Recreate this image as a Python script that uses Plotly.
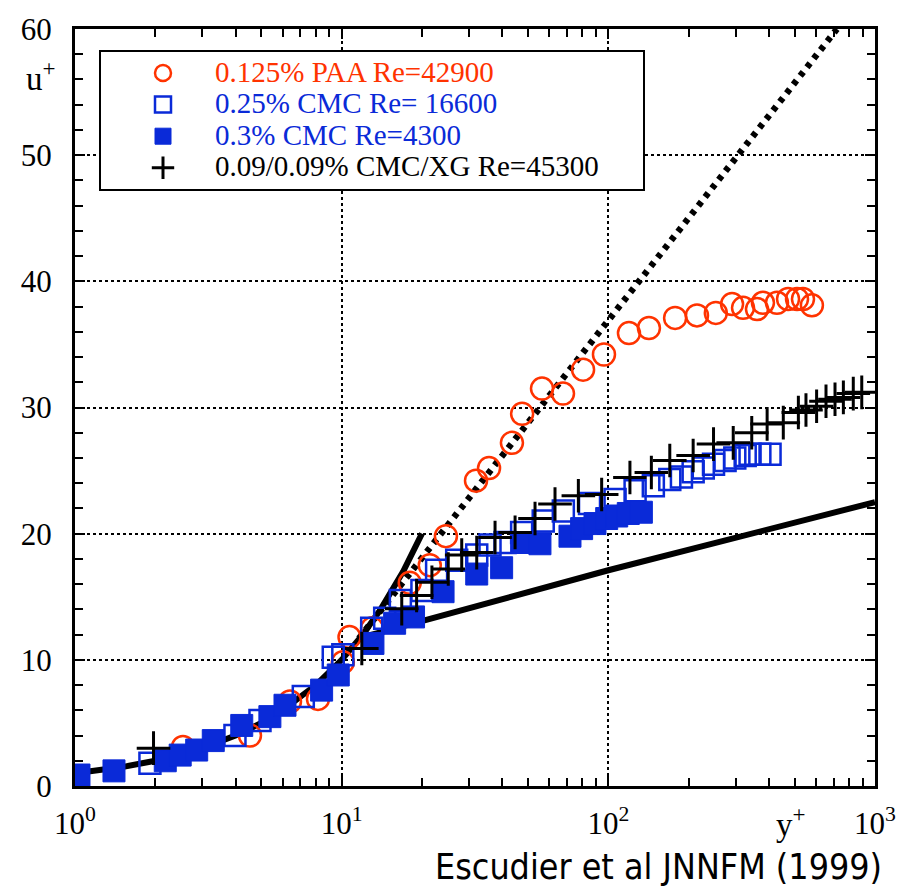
import plotly.graph_objects as go

# ---- data ----
paa_y = [2.54, 4.53, 6.4, 8.15, 10.1, 10.7, 13.0, 18.0, 21.4, 24.6, 31.9, 35.7, 43.5, 47.5,
         56.4, 67.6, 80.4, 96.3, 119.5, 142, 178, 215, 253, 291, 320, 361, 380, 429, 472,
         510, 537, 580]
paa_u = [3.1, 4.0, 6.7, 6.9, 9.8, 11.8, 12.5, 16.1, 17.5, 19.8, 24.2, 25.2, 27.2, 29.5,
         31.5, 31.1, 33.0, 34.2, 35.9, 36.3, 37.1, 37.3, 37.5, 38.2, 37.9, 37.8, 38.3, 38.3,
         38.6, 38.6, 38.6, 38.1]

cmc25_y = [1.91, 3.98, 4.94, 7.18, 9.3, 10.1, 12.96, 14.5, 16.6, 20.0, 22.7, 27.0, 32.1,
           36.0, 41.0, 47.3, 57.0, 67.8, 85, 106, 126, 147.5, 170, 188, 208, 227, 248, 274,
           298, 326, 340, 370, 404]
cmc25_u = [1.8, 4.0, 5.2, 7.1, 10.2, 10.4, 12.5, 13.3, 14.7, 15.5, 17.1, 17.9, 18.3, 19.1,
           19.3, 20.1, 21.0, 21.8, 22.4, 22.7, 23.4, 23.8, 24.3, 24.5, 24.9, 25.2, 25.5, 25.8,
           26.0, 26.2, 26.3, 26.3, 26.3]

cmc3_y = [1.035, 1.40, 2.18, 2.48, 2.86, 3.30, 4.22, 5.38, 6.13, 8.41, 9.71, 13.1, 15.8,
          18.6, 24.0, 32.1, 39.8, 47.3, 55.4, 71.8, 79.4, 89.1, 98.6, 107.5, 118.8, 133]
cmc3_u = [0.87, 1.2, 2.0, 2.45, 2.85, 3.6, 4.8, 5.5, 6.4, 7.6, 8.8, 11.3, 12.9, 13.4, 15.4,
          16.8, 17.3, 19.3, 19.2, 19.8, 20.4, 20.8, 21.2, 21.4, 21.6, 21.7]

xg_y = [1.97, 11.9, 16.8, 19.1, 21.8, 25.1, 28.2, 32.1, 37.6, 44.7, 53.1, 63.1, 77.2, 94.4,
        120.5, 145, 170, 208, 248, 294, 345, 394, 453, 516, 551, 604, 655, 708, 761, 829, 892]
xg_u = [3.0, 10.9, 14.05, 15.1, 16.15, 17.2, 18.3, 18.5, 19.7, 20.1, 21.2, 22.35, 23.0, 23.1,
        24.45, 24.85, 25.8, 26.2, 27.1, 27.2, 28.0, 28.7, 28.8, 29.6, 29.8, 30.1, 30.5, 30.65,
        30.8, 31.1, 31.2]

visc_y = [1, 1.5, 2, 3, 4, 5, 6, 7, 8, 10, 12, 14, 17, 20]
visc_u = [1, 1.5, 2, 3, 4, 5, 6, 7, 8, 10, 12, 14, 17, 20]

loglaw_y = [12, 100, 1000]
loglaw_u = [11.8, 17.1, 22.5]

virk_y = [11.6, 720]
virk_u = [11.7, 60.0]

x_tickvals = [1, 10, 100, 1000]
x_ticktext = ["10<sup>0</sup>", "10<sup>1</sup>", "10<sup>2</sup>", "10<sup>3</sup>"]

names = ["0.125% PAA Re=42900", "0.25% CMC Re= 16600", "0.3% CMC Re=4300",
         "0.09/0.09% CMC/XG Re=45300"]

RED = "#ff3300"
BLUE = "#0a2ad8"
SERIF = "Liberation Serif, Times New Roman, serif"


def lname(txt, color):
    return f'<span style="font-size:29px;color:{color}">{txt}</span>' + "&nbsp;" * 7


fig = go.Figure()

# reference lines
fig.add_trace(go.Scatter(x=visc_y, y=visc_u, mode="lines", showlegend=False,
                         line=dict(color="black", width=6), hoverinfo="skip"))
fig.add_trace(go.Scatter(x=loglaw_y, y=loglaw_u, mode="lines", showlegend=False,
                         line=dict(color="black", width=6), hoverinfo="skip"))
fig.add_trace(go.Scatter(x=virk_y, y=virk_u, mode="lines", showlegend=False,
                         line=dict(color="black", width=6.5, dash="5px,6px"), hoverinfo="skip"))

# data
fig.add_trace(go.Scatter(x=paa_y, y=paa_u, mode="markers", name=lname(names[0], RED),
                         legendrank=1,
                         marker=dict(symbol="circle-open", size=22, color=RED,
                                     line=dict(width=2.5, color=RED))))
fig.add_trace(go.Scatter(x=cmc25_y, y=cmc25_u, mode="markers", name=lname(names[1], BLUE),
                         legendrank=2,
                         marker=dict(symbol="square-open", size=21, color=BLUE,
                                     line=dict(width=2.5, color=BLUE))))
fig.add_trace(go.Scatter(x=cmc3_y, y=cmc3_u, mode="markers", name=lname(names[2], BLUE),
                         legendrank=3,
                         marker=dict(symbol="square", size=22, color=BLUE,
                                     line=dict(width=1, color=BLUE))))
fig.add_trace(go.Scatter(x=xg_y, y=xg_u, mode="markers", name=lname(names[3], "black"),
                         legendrank=4,
                         marker=dict(symbol="cross-thin", size=24, color="black",
                                     line=dict(width=3, color="black"))))

fig.update_layout(
    width=914, height=890,
    margin=dict(l=75, r=39, t=27, b=104),
    paper_bgcolor="white", plot_bgcolor="white",
    font=dict(family=SERIF, size=31, color="black"),
    showlegend=True,
    legend=dict(x=0.03, y=0.972, xanchor="left", yanchor="top",
                bgcolor="white", bordercolor="black", borderwidth=2,
                font=dict(family=SERIF, size=22, color="black"),
                itemwidth=94, indentation=10, itemsizing="trace",
                tracegroupgap=0),
    xaxis=dict(type="log", range=[0, 3], tickmode="array", tickvals=x_tickvals,
               ticktext=x_ticktext, ticks="inside", ticklen=10, tickwidth=2,
               tickcolor="black", showline=True, linecolor="black", linewidth=3,
               mirror="ticks", showgrid=True, gridcolor="black", gridwidth=2,
               griddash="dot", zeroline=False, ticklabelstandoff=8,
               tickfont=dict(family=SERIF, size=31),
               minor=dict(ticks="inside", ticklen=8, tickwidth=2, tickcolor="black",
                          tickvals=[m * 10 ** k for k in range(3) for m in range(2, 10)],
                          showgrid=False)),
    yaxis=dict(range=[0, 60], dtick=10, ticks="inside", ticklen=10, tickwidth=2,
               tickcolor="black", showline=True, linecolor="black", linewidth=3,
               mirror="ticks", showgrid=True, gridcolor="black", gridwidth=2,
               griddash="dot", zeroline=False, ticklabelstandoff=14,
               tickfont=dict(family=SERIF, size=31),
               minor=dict(ticks="inside", ticklen=8, tickwidth=2, tickcolor="black",
                          dtick=2, showgrid=False)),
    annotations=[
        dict(text="u<sup>+</sup>", xref="paper", yref="paper", x=-0.043, y=0.938,
             showarrow=False, font=dict(family=SERIF, size=33), xanchor="center",
             yanchor="middle"),
        dict(text="y<sup>+</sup>", xref="paper", yref="paper", x=0.895, y=-0.048,
             showarrow=False, font=dict(family=SERIF, size=33), xanchor="center",
             yanchor="middle"),
        dict(text="Escudier et al JNNFM (1999)", xref="paper", yref="paper", x=1.01,
             y=-0.107, showarrow=False, xanchor="right", yanchor="middle", borderpad=0,
             font=dict(family="DejaVu Sans Condensed, DejaVu Sans", size=35.5)),
    ],
)

fig.write_html("out.html")
